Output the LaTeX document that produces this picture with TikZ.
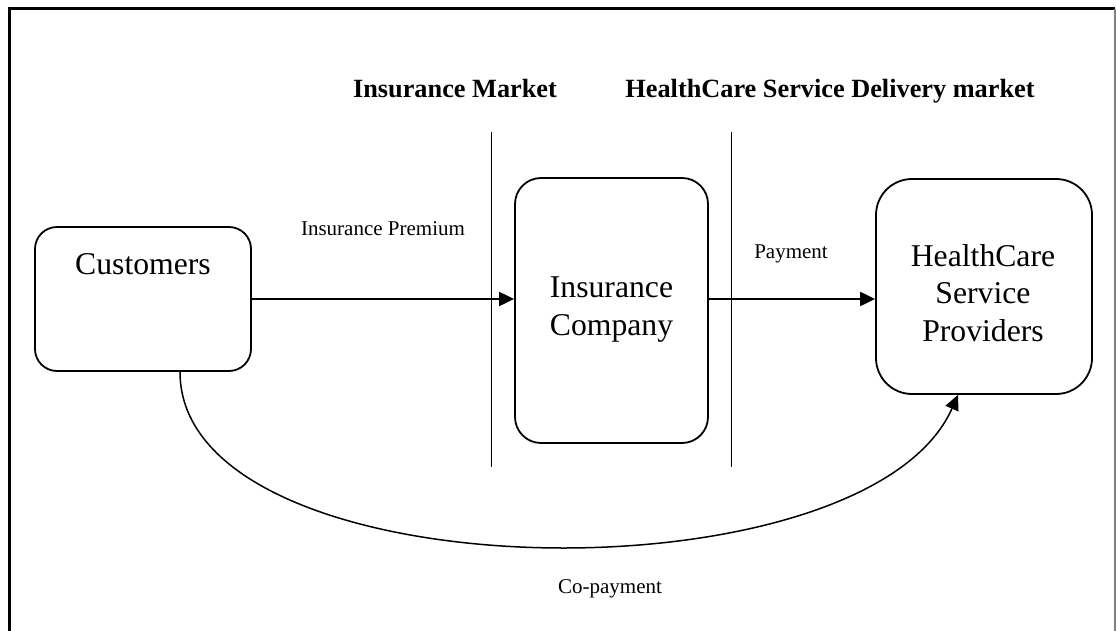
\documentclass[tikz,border=0pt]{standalone}
\usepackage{fontspec}
\setmainfont{Liberation Serif}
\usetikzlibrary{arrows.meta,calc}

\begin{document}
\begin{tikzpicture}[x=1pt,y=-1pt,
    box/.style={draw, line width=1.8pt, rounded corners=#1, fill=white, inner sep=0pt},
    box/.default=24pt,
    boxtext/.style={inner sep=0pt, align=center, font=\fontsize{31.7}{37.5}\selectfont},
    lbl/.style={inner sep=0pt, anchor=base, font=\fontsize{21}{25}\selectfont},
    head/.style={inner sep=0pt, anchor=base, font=\bfseries\fontsize{26.3}{31}\selectfont},
    flow/.style={line width=2pt, -{Triangle[length=15pt,width=14pt]}}]
                \useasboundingbox (0,0) rectangle (1116,631);
                % outer frame
                \draw[line width=3pt] (9,631) -- (9,9) -- (1115,9);
                \draw[line width=1.5pt, gray] (1115,9) -- (1115,631);

                % market headings and dividers
                \node[head] (insmarket) at (455,98) {Insurance Market};
                \node[head] (hcmarket) at (830,98) {HealthCare Service Delivery market};
                \draw[line width=1.3pt] (491.5,132) -- (491.5,467);
                \draw[line width=1.3pt] (731.5,132) -- (731.5,467);

                % the three parties
                \node[box=22pt, minimum width=216pt, minimum height=144pt] (cust) at (143,299) {};
                \node[boxtext, anchor=base] (custtxt) at (143,274) {Customers};
                \node[box=26pt, minimum width=193pt, minimum height=265pt] (ic) at (611.5,310.5) {};
                \node[boxtext] (ictxt) at (611.5,309.7) {Insurance\\Company};
                \node[box=36pt, minimum width=216pt, minimum height=215pt] (hc) at (984,286.5) {};
                \node[boxtext] (hctxt) at (983,293) {HealthCare\\Service\\Providers};

                % money flows
                \draw[flow] (cust.east) -- (cust.east -| ic.west);
                \node[lbl] (premium) at (383,236) {Insurance Premium};
                \draw[flow] (ic.east |- cust.east) -- (hc.west |- cust.east);
                \node[lbl] (payment) at (791,258) {Payment};
                \coordinate (cpfrom) at ($(cust.south)+(37,0)$);
                \coordinate (cpto) at ($(hc.south)+(-26,0)$);
                \draw[flow, line width=1.5pt] (cpfrom) .. controls (180,595) and (865,605) .. (cpto);
                \node[lbl] (copay) at (610,593) {Co-payment};
            \end{tikzpicture}
\end{document}
